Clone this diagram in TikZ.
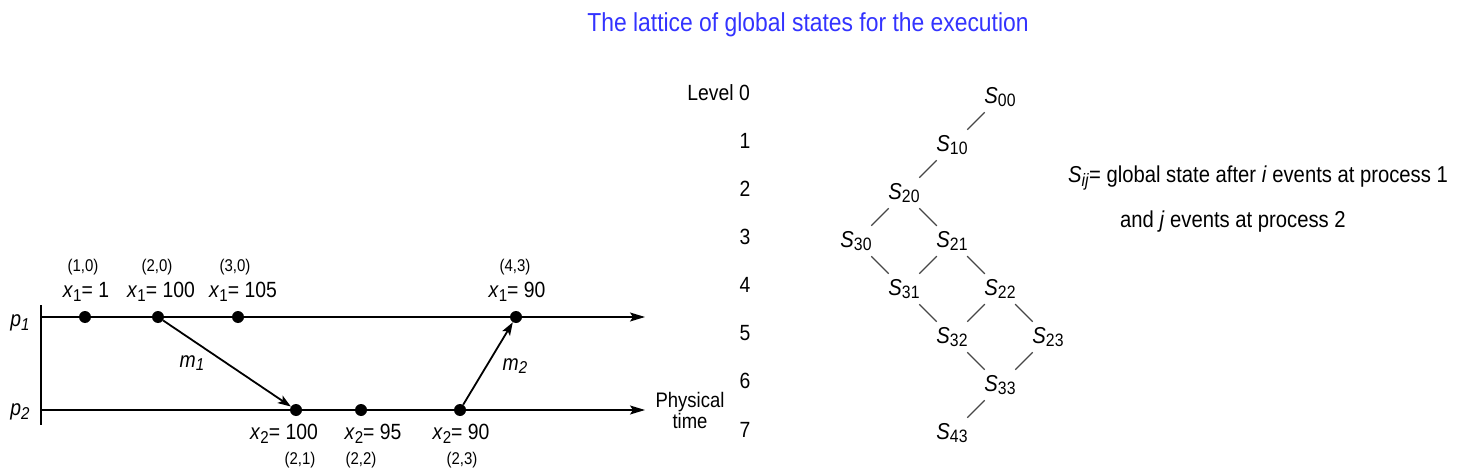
\documentclass[tikz,border=0pt]{standalone}
\usepackage{fontspec}
\usepackage{graphicx}
\setmainfont{Liberation Sans}[FakeStretch=0.88]
\usetikzlibrary{arrows.meta}

\definecolor{titleblue}{RGB}{51,51,255}
\definecolor{edgegray}{RGB}{70,70,70}

% larger, slightly lowered subscript
\newcommand{\lowix}[1]{\raisebox{-0.3ex}{\scalebox{0.78}{#1}}}

\tikzset{
  event/.style={circle, fill=black, inner sep=0pt, minimum size=12pt},
  vecstamp/.style={font=\fontsize{17}{17}\selectfont, inner sep=1pt},
  varval/.style={font=\fontsize{22}{22}\selectfont, inner sep=1pt},
  levelnum/.style={font=\fontsize{22}{22}\selectfont, inner sep=1pt},
  gstate/.style={font=\fontsize{23}{23}\selectfont, inner sep=3pt},
  timeline/.style={line width=1.2pt, -{Stealth[length=15pt, width=9pt, inset=3pt]}},
  msg/.style={line width=1.8pt, -{Stealth[length=13pt, width=9pt, inset=3pt]}},
  latedge/.style={edgegray, line width=1.3pt, shorten >=3pt, shorten <=3pt}
}

\begin{document}
\begin{tikzpicture}[x=1pt, y=-1pt, >=Stealth]
  \useasboundingbox (0,0) rectangle (1473,476);

  % 1. title
  \node[font=\fontsize{26}{26}\selectfont, text=titleblue] (title) at (808,25)
    {The lattice of global states for the execution};

  % 2. processes and events
  \draw[line width=1.2pt] (41,305) -- (41,425);
  \coordinate (p1start) at (41,317);
  \coordinate (p1end) at (645,317);
  \coordinate (p2start) at (41,410);
  \coordinate (p2end) at (645,410);
  \draw[timeline] (p1start) -- (p1end);
  \draw[timeline] (p2start) -- (p2end);

  \node[varval] (p1) at (20,323) {\textit{p}\lowix{\textit{1}}};
  \node[varval] (p2) at (20,412) {\textit{p}\lowix{\textit{2}}};

  \node[event] (e11) at (85,317) {};
  \node[event] (e12) at (158,317) {};
  \node[event] (e13) at (238,317) {};
  \node[event] (e14) at (516,317) {};
  \node[event] (e21) at (296,410) {};
  \node[event] (e22) at (361,410) {};
  \node[event] (e23) at (460,410) {};

  % vector timestamps and values
  \node[vecstamp] at (83,267) {(1,0)};
  \node[vecstamp] at (157,267) {(2,0)};
  \node[vecstamp] at (235,267) {(3,0)};
  \node[vecstamp] at (515,267) {(4,3)};
  \node[varval] at (86,292) {\textit{x}\lowix{1}= 1};
  \node[varval] at (161,292) {\textit{x}\lowix{1}= 100};
  \node[varval] at (243,292) {\textit{x}\lowix{1}= 105};
  \node[varval] at (517,292) {\textit{x}\lowix{1}= 90};

  \node[varval] at (284,434) {\textit{x}\lowix{2}= 100};
  \node[varval] at (373,434) {\textit{x}\lowix{2}= 95};
  \node[varval] at (461,434) {\textit{x}\lowix{2}= 90};
  \node[vecstamp] at (300,460) {(2,1)};
  \node[vecstamp] at (361,460) {(2,2)};
  \node[vecstamp] at (462,460) {(2,3)};

  % messages
  \draw[msg] (e12) -- (e21);
  \draw[msg] (e23) -- (e14);
  \node[varval] (m1) at (192,363) {\textit{m}\lowix{\textit{1}}};
  \node[varval] (m2) at (515,366) {\textit{m}\lowix{\textit{2}}};

  \node[levelnum, align=center, font=\fontsize{21}{21}\selectfont] (phys) at (690,410) {Physical\\time};

  % 3. levels
  \node[levelnum, anchor=east] (lv0) at (751,93) {Level 0};
  \node[levelnum] (lv1) at (745,141) {1};
  \node[levelnum] (lv2) at (745,189) {2};
  \node[levelnum] (lv3) at (745,237) {3};
  \node[levelnum] (lv4) at (745,285) {4};
  \node[levelnum] (lv5) at (745,333) {5};
  \node[levelnum] (lv6) at (745,381) {6};
  \node[levelnum] (lv7) at (745,430) {7};

  % 4. lattice of global states
  \node[gstate] (s00) at (1000,97) {\textit{S}\lowix{00}};
  \node[gstate] (s10) at (952,145) {\textit{S}\lowix{10}};
  \node[gstate] (s20) at (904,193) {\textit{S}\lowix{20}};
  \node[gstate] (s30) at (856,241) {\textit{S}\lowix{30}};
  \node[gstate] (s21) at (952,241) {\textit{S}\lowix{21}};
  \node[gstate] (s31) at (904,289) {\textit{S}\lowix{31}};
  \node[gstate] (s22) at (1000,289) {\textit{S}\lowix{22}};
  \node[gstate] (s32) at (952,337) {\textit{S}\lowix{32}};
  \node[gstate] (s23) at (1048,337) {\textit{S}\lowix{23}};
  \node[gstate] (s33) at (1000,385) {\textit{S}\lowix{33}};
  \node[gstate] (s43) at (952,433) {\textit{S}\lowix{43}};

  \draw[latedge] (s00) -- (s10);
  \draw[latedge] (s10) -- (s20);
  \draw[latedge] (s20) -- (s30);
  \draw[latedge] (s20) -- (s21);
  \draw[latedge] (s30) -- (s31);
  \draw[latedge] (s21) -- (s31);
  \draw[latedge] (s21) -- (s22);
  \draw[latedge] (s31) -- (s32);
  \draw[latedge] (s22) -- (s32);
  \draw[latedge] (s22) -- (s23);
  \draw[latedge] (s32) -- (s33);
  \draw[latedge] (s23) -- (s33);
  \draw[latedge] (s33) -- (s43);

  % 5. legend
  \node[gstate, anchor=west, inner sep=0pt] (legend1) at (1068,178)
    {\textit{S}\lowix{\textit{ij}}= global state after \textit{i} events at process 1};
  \node[gstate, anchor=west, inner sep=0pt] (legend2) at (1120,222)
    {and \textit{j} events at process 2};

\end{tikzpicture}
\end{document}
